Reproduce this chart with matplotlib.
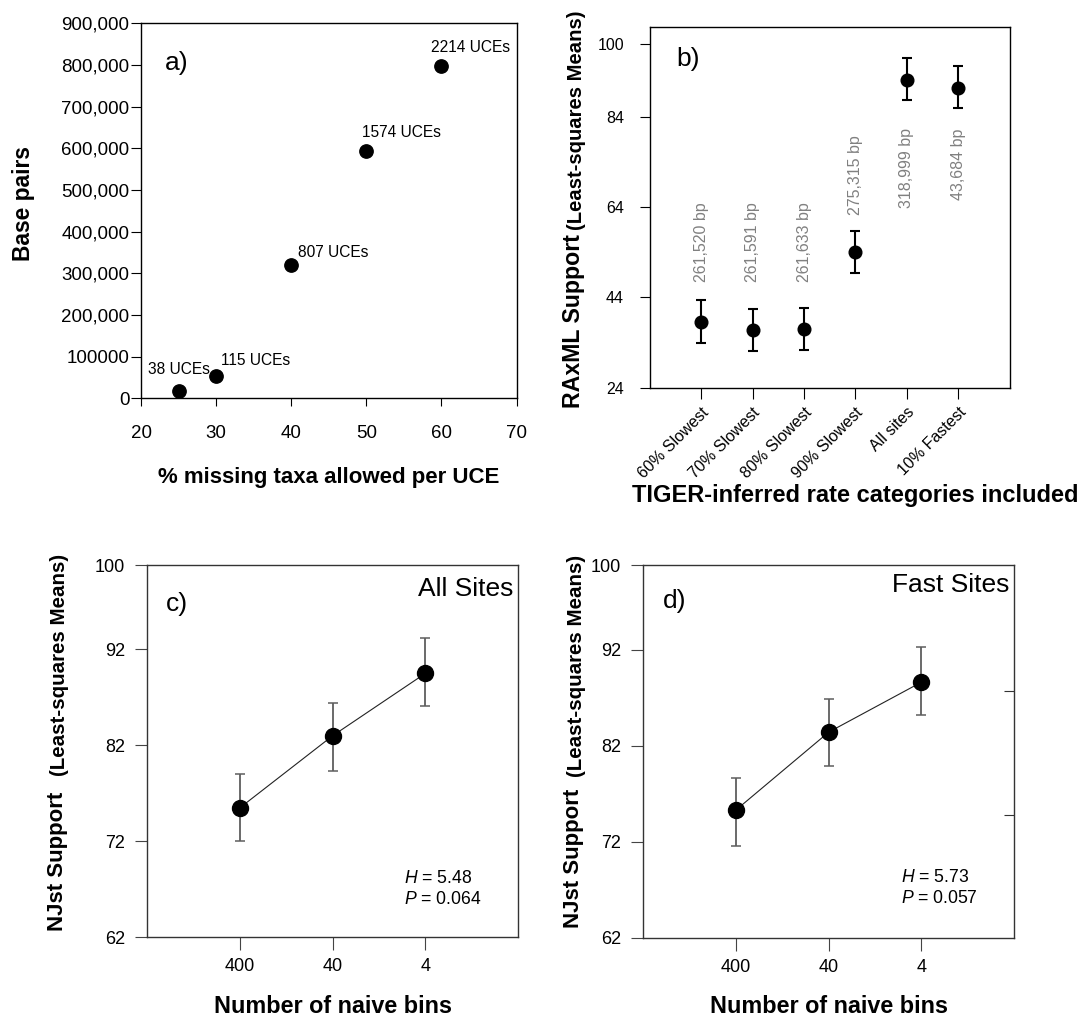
import numpy as np
import matplotlib.pyplot as plt

plt.rcParams['font.family'] = ['Liberation Sans', 'DejaVu Sans']
plt.rcParams['mathtext.fontset'] = 'custom'
plt.rcParams['mathtext.it'] = 'Liberation Sans:italic'
plt.rcParams['mathtext.rm'] = 'Liberation Sans'

W, H = 1077, 1017

# ---- panel a data ----
missing_pct = [25, 30, 40, 50, 60]
base_pairs = [17500, 53500, 319000, 593000, 798000]
uce_labels = ['38 UCEs', '115 UCEs', '807 UCEs', '1574 UCEs', '2214 UCEs']
a_xticks = [20, 30, 40, 50, 60, 70]
a_yticks = [0, 100000, 200000, 300000, 400000, 500000, 600000, 700000, 800000, 900000]
a_yticklabels = ['0', '100000', '200,000', '300,000', '400,000', '500,000',
                 '600,000', '700,000', '800,000', '900,000']

# ---- panel b data ----
rate_cats = ['60% Slowest', '70% Slowest', '80% Slowest', '90% Slowest',
             'All sites', '10% Fastest']
raxml_mean = [38.6, 36.7, 37.0, 54.1, 92.0, 90.4]
raxml_lo = [34.0, 32.2, 32.4, 49.3, 87.6, 85.8]
raxml_hi = [43.3, 41.5, 41.7, 58.7, 97.0, 95.1]
bp_labels = ['261,520 bp', '261,591 bp', '261,633 bp', '275,315 bp',
             '318,999 bp', '43,684 bp']
bp_label_top = [65.0, 65.0, 65.0, 79.9, 81.4, 81.4]
b_yticks = [24, 44, 64, 84, 100]

# ---- panels c / d data ----
bins = ['400', '40', '4']
all_mean = [75.5, 83.0, 89.5]
all_lo = [72.0, 79.35, 86.1]
all_hi = [79.0, 86.4, 93.2]
fast_mean = [75.3, 83.4, 88.6]
fast_lo = [71.55, 79.85, 85.2]
fast_hi = [78.65, 86.9, 92.3]
nj_yticks = [62, 72, 82, 92, 100]
nj_ytop = 100.8
fast_right_ticks = [74.8, 87.65]
stats_all = ['5.48', '0.064']
stats_fast = ['5.73', '0.057']


def px_axes(fig, l, t, r, b):
    return fig.add_axes([l / W, 1 - b / H, (r - l) / W, (b - t) / H])


def ftext(fig, x, y, s, **kw):
    return fig.text(x / W, 1 - y / H, s, **kw)


fig = plt.figure(figsize=(W / 100, H / 100), dpi=100)
fig.patch.set_facecolor('white')

# ================= a) =================
ax = px_axes(fig, 141.2, 23.3, 516.5, 398.3)
ax.plot(missing_pct, base_pairs, 'o', color='black', ms=9.6)
offsets = [(0, 15.3, 'center'), (3.6, 11.3, 'left'), (5.0, 9.6, 'left'),
           (-2.9, 13.2, 'left'), (-7.2, 13.0, 'left')]
for xv, yv, lab, (dx, dy, ha) in zip(missing_pct, base_pairs, uce_labels, offsets):
    ax.annotate(lab, (xv, yv), xytext=(dx, dy), textcoords='offset points',
                ha=ha, va='center', fontsize=11.2)
ax.set_xlim(20, 70)
ax.set_ylim(0, 900000)
ax.set_xticks(a_xticks)
ax.set_yticks(a_yticks, a_yticklabels)
ax.tick_params(axis='y', direction='out', length=7.4, pad=1, labelsize=13.5)
ax.tick_params(axis='x', direction='out', length=6, pad=13.5, labelsize=13.5)
for s in ax.spines.values():
    s.set_linewidth(1.0)
ax.text(0.063, 0.894, 'a)', transform=ax.transAxes, fontsize=19, va='center')
ftext(fig, 23.2, 204, 'Base pairs', rotation=90, ha='center', va='center',
      fontsize=16.4, fontweight='bold')
ftext(fig, 328.9, 482.6, '% missing taxa allowed per UCE', ha='center',
      va='baseline', fontsize=16, fontweight='bold')

# ================= b) =================
ax = px_axes(fig, 649.6, 26.7, 1009.9, 387.7)
xb = np.arange(1, len(rate_cats) + 1)
mean = np.array(raxml_mean)
yerr = [mean - np.array(raxml_lo), np.array(raxml_hi) - mean]
ax.errorbar(xb, mean, yerr=yerr, fmt='o', color='black', ms=9.1,
            elinewidth=1.5, capsize=3.6, capthick=1.5)
for xv, yv, lab in zip(xb, bp_label_top, bp_labels):
    ax.text(xv, yv, lab, rotation=90, ha='center', va='top', fontsize=11.5,
            color='#808080')
ax.set_xlim(0, 7)
ax.set_ylim(24, 103.9)
ax.set_yticks(b_yticks)
ax.set_xticks(xb)
ax.set_xticklabels(rate_cats, rotation=45, ha='right', rotation_mode='anchor',
                   fontsize=11.5)
ax.tick_params(axis='y', direction='out', length=7.4, pad=11, labelsize=11.5)
ax.tick_params(axis='x', direction='out', length=7.7, pad=4.5)
for s in ax.spines.values():
    s.set_linewidth(1.0)
ax.text(0.073, 0.91, 'b)', transform=ax.transAxes, fontsize=19, va='center')
ftext(fig, 573.4, 320.8, 'RAxML Support', rotation=90, ha='center',
      va='center', fontsize=16.7, fontweight='bold')
ftext(fig, 576, 120, '(Least-squares Means)', rotation=90, ha='center',
      va='center', fontsize=14.6, fontweight='bold')
ftext(fig, 632.5, 501.9, 'TIGER-inferred rate categories included',
      ha='left', va='baseline', fontsize=17, fontweight='bold')


# ================= c) / d) =================
def nj_panel(box, means, lo, hi, letter, title, stats, ylab_x, ylab_y,
             letter_xy, stats_x, stats_y):
    ax = px_axes(fig, *box)
    xs = np.arange(1, len(bins) + 1)
    m = np.array(means)
    ax.plot(xs, m, '-', color='#222222', lw=0.8, zorder=2)
    ax.errorbar(xs, m, yerr=[m - np.array(lo), np.array(hi) - m], fmt='none',
                ecolor='#5e5e5e', elinewidth=1.3, capsize=3.6, capthick=1.1,
                zorder=1)
    ax.plot(xs, m, 'o', color='black', ms=11.5, zorder=3)
    ax.set_xlim(0, 4)
    ax.set_ylim(nj_yticks[0], nj_ytop)
    ax.set_xticks(xs, bins)
    ax.set_yticks(nj_yticks[:-1] + [nj_ytop], [str(v) for v in nj_yticks])
    ax.tick_params(axis='both', direction='out', color='#444444',
                   labelsize=13)
    ax.tick_params(axis='y', length=8.4, pad=7.5)
    ax.tick_params(axis='x', length=9, pad=6)
    for s in ax.spines.values():
        s.set_linewidth(1.0)
        s.set_color('#333333')
    x0, y0, x1, y1 = box
    ftext(fig, letter_xy[0], letter_xy[1], letter, fontsize=19, va='center')
    ftext(fig, x1 - 5, (y0 + 24) if title == 'All Sites' else (y0 + 20),
          title, fontsize=19, ha='right', va='center')
    ftext(fig, stats_x, stats_y[0], '$\\mathit{H}$ = ' + stats[0],
          fontsize=12.7, va='center')
    ftext(fig, stats_x, stats_y[1], '$\\mathit{P}$ = ' + stats[1],
          fontsize=12.7, va='center')
    ftext(fig, ylab_x[0], ylab_y[0], 'NJst Support', rotation=90,
          ha='center', va='center', fontsize=16, fontweight='bold')
    ftext(fig, ylab_x[1], ylab_y[1], '(Least-squares Means)', rotation=90,
          ha='center', va='center', fontsize=14.8, fontweight='bold')
    ftext(fig, (x0 + x1) / 2, 1013.4, 'Number of naive bins', ha='center',
          va='baseline', fontsize=16.8, fontweight='bold')
    return ax


nj_panel((147.3, 565, 517.9, 937.3), all_mean, all_lo, all_hi, 'c)',
         'All Sites', stats_all, (57.6, 59.4), (861.7, 665), (166.2, 604),
         404.3, (878.3, 899))
ax_d = nj_panel((643.4, 565, 1014, 937.7), fast_mean, fast_lo, fast_hi, 'd)',
                'Fast Sites', stats_fast, (573.4, 576), (858, 665.8),
                (662.6, 600.8), 901.3, (877.3, 898.3))
ax_r = ax_d.twinx()
ax_r.set_ylim(ax_d.get_ylim())
ax_r.set_yticks(fast_right_ticks, ['', ''])
ax_r.tick_params(axis='y', direction='in', length=7.4, color='#333333')
for s in ax_r.spines.values():
    s.set_visible(False)

fig.savefig('out.png', dpi=100, facecolor='white')
